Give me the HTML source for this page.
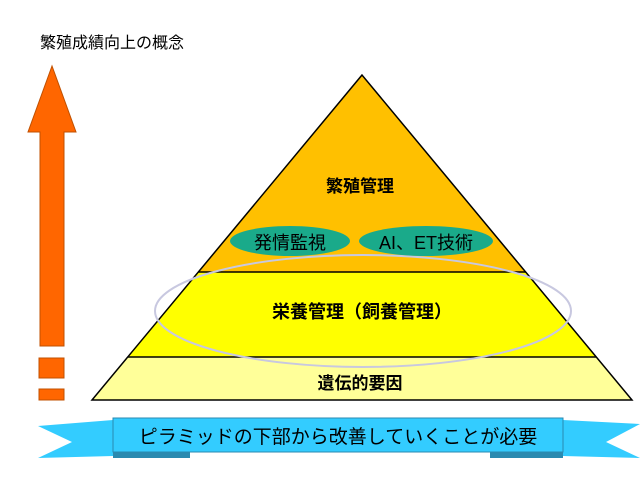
<!DOCTYPE html><html><head><meta charset="utf-8"><style>body{margin:0;background:#fff}svg text{font-family:"Liberation Sans","Noto Sans CJK JP",sans-serif}</style></head><body>
<svg width="640" height="480" viewBox="0 0 640 480" xmlns="http://www.w3.org/2000/svg">
<text x="40" y="48" font-size="16">繁殖成績向上の概念</text>
<polygon points="52,66 28,132 40,132 40,346 64,346 64,132 76,132" fill="#ff6600" stroke="#c05000" stroke-width="1"/>
<rect x="39" y="358" width="25" height="20" fill="#ff6600" stroke="#c05000"/>
<rect x="39" y="389" width="25" height="11" fill="#ff6600" stroke="#c05000"/>
<polygon points="362,75 198,272 526,272" fill="#ffc000"/>
<polygon points="198,272 526,272 596,357 128,357" fill="#ffff00"/>
<polygon points="128,357 596,357 632,400 92,400" fill="#ffff99"/>
<polygon points="362,75 92,400 632,400" fill="none" stroke="#000" stroke-width="1.5"/>
<line x1="198" y1="272" x2="526" y2="272" stroke="#000" stroke-width="1.5"/>
<line x1="128" y1="357" x2="596" y2="357" stroke="#000" stroke-width="1.5"/>
<ellipse cx="363" cy="311" rx="208" ry="56" fill="none" stroke="#c8c8e0" stroke-width="2"/>
<ellipse cx="290" cy="241" rx="60" ry="15" fill="#1aaa8a"/>
<ellipse cx="426" cy="241" rx="67" ry="15" fill="#1aaa8a"/>
<text x="360" y="192" font-size="17" font-weight="bold" text-anchor="middle">繁殖管理</text>
<text x="290" y="249" font-size="18" text-anchor="middle">発情監視</text>
<text x="426" y="249" font-size="18" text-anchor="middle" font-family="Liberation Serif,Noto Serif CJK SC,serif">AI、ET技術</text>
<text x="362" y="318" font-size="18" font-weight="bold" text-anchor="middle">栄養管理（飼養管理）</text>
<text x="360" y="389" font-size="17" font-weight="bold" text-anchor="middle">遺伝的要因</text>
<polygon points="38,426 113,420 113,456 38,458 72,442" fill="#33ccff"/>
<polygon points="640,424 563,420 563,456 640,458 606,442" fill="#33ccff"/>
<rect x="113" y="451" width="77" height="7" fill="#2a8ab0"/>
<rect x="490" y="451" width="73" height="7" fill="#2a8ab0"/>
<rect x="113" y="418" width="450" height="34" fill="#33ccff" stroke="#2a8ab0"/>
<text x="338" y="443" font-size="19" text-anchor="middle">ピラミッドの下部から改善していくことが必要</text>
</svg></body></html>
